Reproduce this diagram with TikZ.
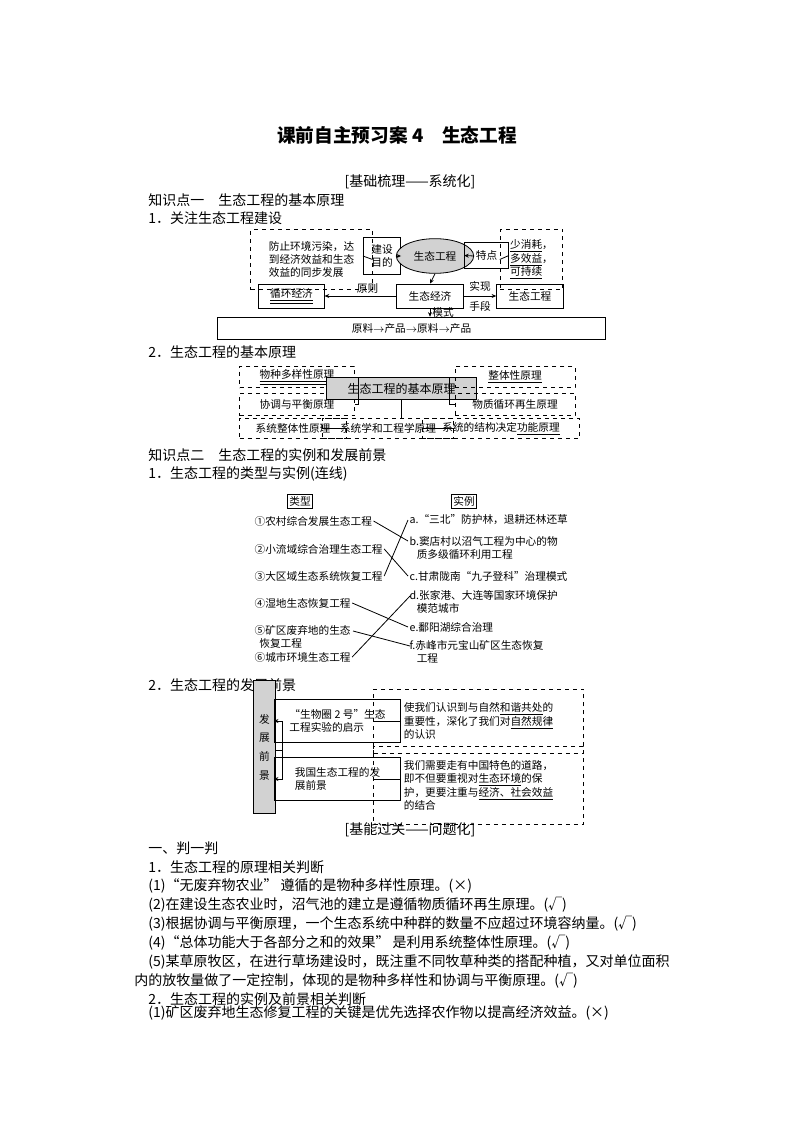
\documentclass[tikz,border=0pt]{standalone}
\usepackage{fontspec}
\setmainfont{Liberation Serif}
\newfontfamily\cjk{Noto Sans CJK SC}
\usetikzlibrary{arrows.meta,shapes.geometric}
\begin{document}
\begin{tikzpicture}[x=0.75pt,y=-0.75pt,
  every node/.style={font=\cjk\fontsize{8}{10}\selectfont,inner sep=1.5pt},
  txt/.style={anchor=west,font=\cjk\fontsize{10.5}{13}\selectfont,inner sep=0pt},
  sbox/.style={draw,line width=0.6pt},
  dbox/.style={draw,dashed,line width=0.6pt},
  gbox/.style={draw,fill=gray!35,line width=0.6pt},
  ln/.style={line width=0.6pt},
  arr/.style={line width=0.6pt,-{Stealth[length=3.5pt,width=3pt]}}]
\useasboundingbox (0,0) rectangle (794,1123);
\fill[white] (0,0) rectangle (794,1123);
% headings
\node[font=\cjk\bfseries\fontsize{14}{16}\selectfont] (title) at (397,135) {课前自主预习案 4\quad 生态工程};
\node[font=\cjk\fontsize{10.5}{13}\selectfont] (h1) at (410,182) {[基础梳理——系统化]};
\node[txt] (k1) at (148,200) {知识点一\quad 生态工程的基本原理};
\node[txt] (k11) at (148,218) {1．关注生态工程建设};
% diagram 1
\node[dbox,minimum width=91,minimum height=45,align=left] (d1a) at (311.5,259.5) {防止环境污染，达\\到经济效益和生态\\效益的同步发展};
\node[sbox,align=center,minimum width=28,minimum height=28] (d1b) at (382,256) {建设\\目的};
\node[ellipse,draw,fill=gray!35,line width=0.6pt,minimum width=58,minimum height=26] (d1c) at (435,256) {生态工程};
\node[sbox,minimum width=33,minimum height=19] (d1d) at (486.5,255.5) {特点};
\node[dbox,align=left,minimum width=47,minimum height=45] (d1e) at (531.5,259.5) {\underline{少消耗}，\\\underline{多效益}，\\\underline{可持续}};
\node[sbox,minimum width=50,minimum height=18] (d1f) at (430,296) {生态经济};
\node[sbox,minimum width=49,minimum height=18] (d1g) at (291.5,296) {\underline{\underline{循环经济}}};
\node[sbox,minimum width=50,minimum height=18] (d1h) at (530,296) {生态工程};
\node[sbox,minimum width=291,minimum height=17] (d1i) at (411.5,328.5) {原料$\rightarrow$产品$\rightarrow$原料$\rightarrow$产品};
\draw[ln] (d1a.east) -- (d1b.west);
\draw[arr] (d1c.west) -- (d1b.east);
\draw[arr] (d1c.east) -- (d1d.west);
\draw[ln] (d1d.east) -- (d1e.west);
\draw[arr] (d1c.south) -- (d1f.north);
\draw[arr] (d1f.west) -- node[above,pos=0.4] {原则} (d1g.east);
\draw[arr] (d1f.east) -- node[align=center,font=\cjk\fontsize{8}{15}\selectfont] {实现\\手段} (d1h.west);
\draw[arr] (d1f.south) -- node[right] {模式} (d1i.north -| d1f.south);
% diagram 2
\node[txt] (k12) at (148,352) {2．生态工程的基本原理};
\node[dbox,minimum width=86,minimum height=16] (p1) at (297,377) {\underline{\underline{物种多样性原理}}};
\node[dbox,minimum width=86,minimum height=17] (p2) at (297,404.5) {协调与平衡原理};
\node[gbox,minimum width=113,minimum height=17] (pc) at (401.5,388.5) {\fontsize{9}{11}\selectfont 生态工程的基本原理};
\node[dbox,minimum width=90,minimum height=16] (p3) at (515,377) {\underline{整体性原理}};
\node[dbox,minimum width=90,minimum height=17] (p4) at (515,404.5) {物质循环再生原理};
\node[dbox,minimum width=80,minimum height=15] (p5) at (293,428.5) {系统整体性原理};
\node[dbox,minimum width=98,minimum height=15] (p6) at (388,428.5) {系统学和工程学原理};
\node[dbox,minimum width=118,minimum height=15] (p7) at (501,428.5) {系统的结构决定\underline{功能原理}};
\draw[ln] (p1.east) -- ++(4,0) |- (p2.east);
\draw[ln] (p3.west) -- ++(-5,0) |- (p4.west);
\draw[ln] (pc.south) -- (p6.north -| pc.south);
\draw[ln] (p5.east) -- (p6.west);
\draw[ln] (p6.east) -- (p7.west);
% knowledge 2
\node[txt] (k2) at (148,455) {知识点二\quad 生态工程的实例和发展前景};
\node[txt] (k21) at (148,474) {1．生态工程的类型与实例(连线)};
\node[sbox] (lt) at (300,501) {类型};
\node[sbox] (rt) at (464,501) {实例};
\tikzset{li/.style={anchor=west,inner sep=1pt,align=left}}
\node[li] (l1) at (253,521) {①农村综合发展生态工程};
\node[li] (l2) at (253,549) {②小流域综合治理生态工程};
\node[li] (l3) at (253,576) {③大区域生态系统恢复工程};
\node[li] (l4) at (253,603) {④湿地生态恢复工程};
\node[li] (l5) at (253,637) {⑤矿区废弃地的生态\\\ \ 恢复工程};
\node[li] (l6) at (253,657) {⑥城市环境生态工程};
\node[li] (r1) at (408,520) {a.“三北”防护林，退耕还林还草};
\node[li] (r2) at (408,548) {b.窦店村以沼气工程为中心的物\\\ \ \ 质多级循环利用工程};
\node[li] (r3) at (408,576) {c.甘肃陇南“九子登科”治理模式};
\node[li] (r4) at (408,602) {d.张家港、大连等国家环境保护\\\ \ \ 模范城市};
\node[li] (r5) at (408,627) {e.鄱阳湖综合治理};
\node[li] (r6) at (408,652) {f.赤峰市元宝山矿区生态恢复\\\ \ \ 工程};
\coordinate (l5e) at (353,631);
\coordinate (r2s) at (408,541);
\coordinate (r4s) at (410,596);
\coordinate (r6s) at (410,646);
\draw[ln] (l1.east) -- (r2s);
\draw[ln] (l2.east) -- (r3.west);
\draw[ln] (l3.east) -- (r1.west);
\draw[ln] (l4.east) -- (r5.west);
\draw[ln] (l5e) -- (r6s);
\draw[ln] (l6.east) -- (r4s);
% diagram 4
\node[txt] (k22) at (148,685) {2．生态工程的发展前景};
\node[gbox,minimum width=17,minimum height=100,align=center,font=\cjk\fontsize{8}{14}\selectfont] (fz) at (264.5,747) {发\\展\\前\\景};
\node[sbox,minimum width=95,minimum height=32,align=left] (fa) at (337.5,721) {“生物圈 2 号”生态\\工程实验的启示};
\node[sbox,minimum width=95,minimum height=32,align=left] (fb) at (337.5,779) {我国生态工程的发\\展前景};
\node[dbox,minimum width=157,minimum height=48,align=left] (fc) at (478.5,721) {使我们认识到与自然\underline{和谐共处}的\\重要性，深化了我们对\underline{自然规律}\\的认识};
\node[dbox,minimum width=157,minimum height=59,align=left] (fd) at (478.5,785.5) {我们需要走有中国特色的道路，\\即不但要重视对\underline{生态环境}的保\\护，更要注重与\underline{经济、社会效益}\\的结合};
\coordinate (jn) at (282,750);
\draw[ln] (fz.east |- jn) -- (jn);
\draw[arr] (jn) |- (fa.west);
\draw[arr] (jn) |- (fb.west);
\draw[ln] (fa.east) -- (fc.west |- fa.east);
\draw[ln] (fb.east) -- (fd.west |- fb.east);
% part 2
\node[font=\cjk\fontsize{10.5}{13}\selectfont] (h2) at (410,830) {[基能过关——问题化]};
\node[txt] (t1) at (148,848) {一、判一判};
\node[txt] (t2) at (148,867) {1．生态工程的原理相关判断};
\node[txt] (t3) at (148,886) {(1)“无废弃物农业” 遵循的是物种多样性原理。(×)};
\node[txt] (t4) at (148,905) {(2)在建设生态农业时，沼气池的建立是遵循物质循环再生原理。(√)};
\node[txt] (t5) at (148,924) {(3)根据协调与平衡原理，一个生态系统中种群的数量不应超过环境容纳量。(√)};
\node[txt] (t6) at (148,943) {(4)“总体功能大于各部分之和的效果” 是利用系统整体性原理。(√)};
\node[txt] (t7) at (148,962) {(5)某草原牧区，在进行草场建设时，既注重不同牧草种类的搭配种植，又对单位面积};
\node[txt] (t8) at (134,981) {内的放牧量做了一定控制，体现的是物种多样性和协调与平衡原理。(√)};
\node[txt] (t9) at (148,999) {2．生态工程的实例及前景相关判断};
\node[txt] (t10) at (148,1013) {(1)矿区废弃地生态修复工程的关键是优先选择农作物以提高经济效益。(×)};
\end{tikzpicture}
\end{document}
